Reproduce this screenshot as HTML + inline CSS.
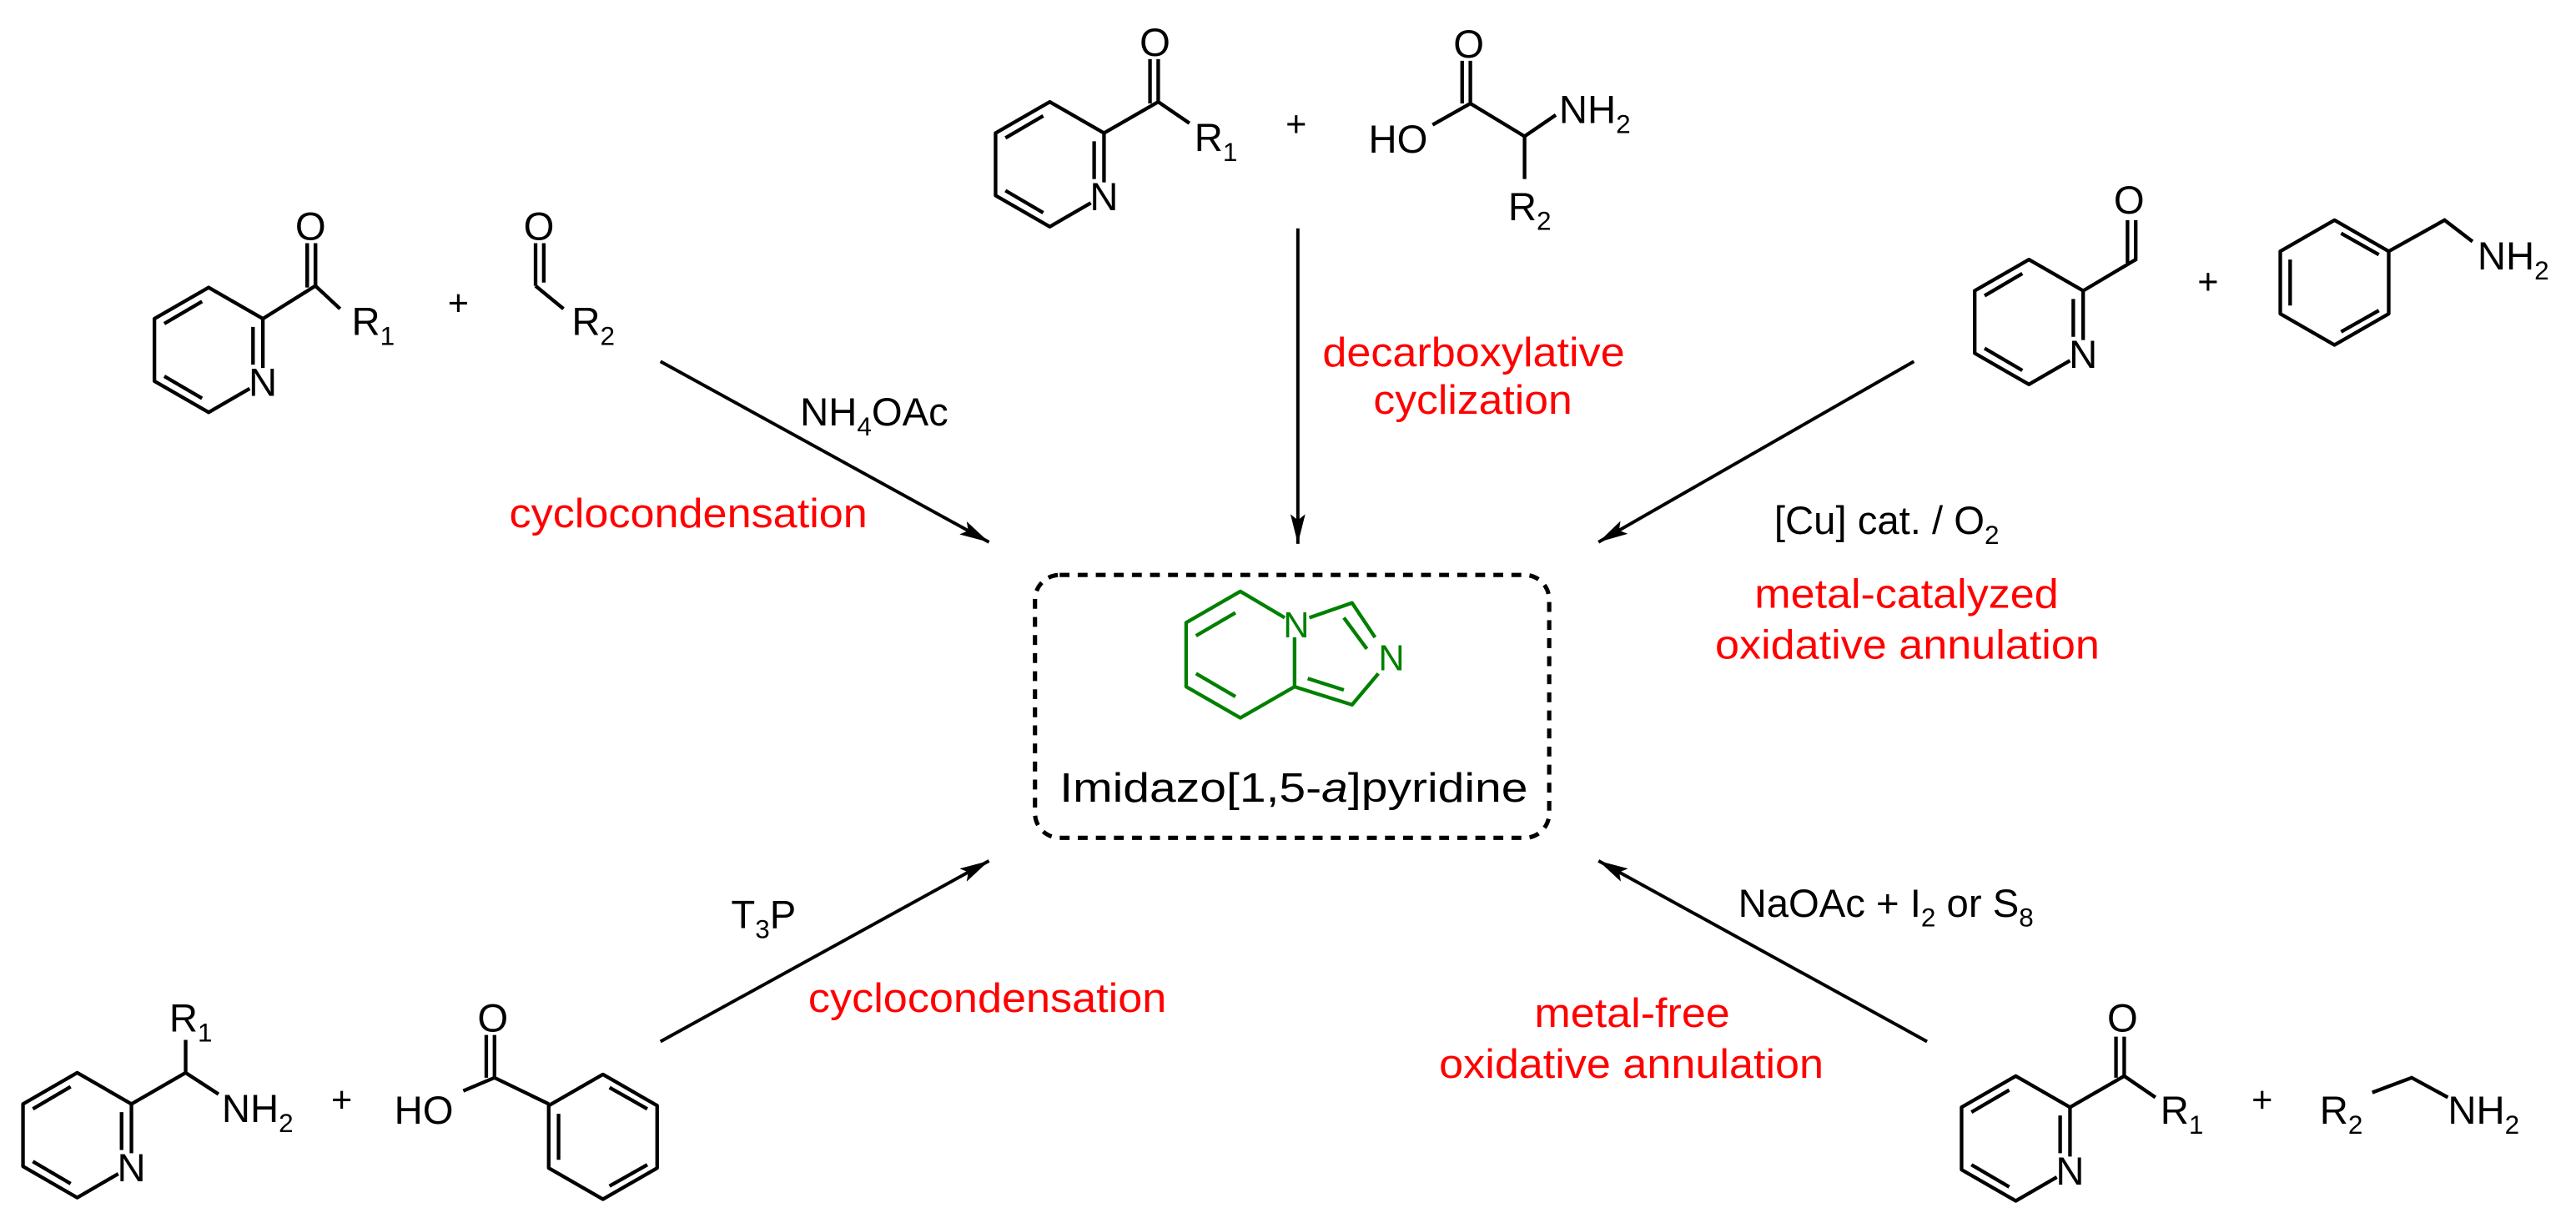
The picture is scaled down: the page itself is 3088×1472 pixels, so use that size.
<!DOCTYPE html>
<html><head><meta charset="utf-8"><style>
html,body{margin:0;padding:0;background:#fff;}
svg{display:block;}
text{font-family:"Liberation Sans",Arial,sans-serif;}
</style></head><body>
<svg width="3088" height="1472" viewBox="0 0 1568 747.5" preserveAspectRatio="none" xmlns="http://www.w3.org/2000/svg">
<defs>
<marker id="ah" viewBox="0 0 20 10" refX="20" refY="5" markerWidth="10" markerHeight="5" markerUnits="userSpaceOnUse" orient="auto">
<path d="M0,0 L20,5 L0,10 L4,5 z" fill="#000"/>
</marker>
<marker id="ah2" viewBox="0 0 20 10" refX="20" refY="5" markerWidth="18" markerHeight="9" markerUnits="userSpaceOnUse" orient="auto">
<path d="M0,0 L20,5 L0,10 L4,5 z" fill="#000"/>
</marker>
<g id="pyr" fill="none" stroke="#000" stroke-width="2.2" stroke-linejoin="round">
<path d="M33,11 L33,-19 L0,-38 L-33,-19 L-33,19 L0,38 L25,23.5"/>
<path d="M-27,-16 L-4,-29.5 M-27,16 L-4,29.5 M27,-14 L27,9"/>
</g>
<g id="benz" fill="none" stroke="#000" stroke-width="2.2" stroke-linejoin="round">
<path d="M33,-19 L0,-38 L-33,-19 L-33,19 L0,38 L33,19 Z"/>
<path d="M-27,-14 L-27,14 M4,-30 L27,-17 M4,30 L27,17"/>
</g>
</defs>

<g font-size="24" fill="#000">
<!-- Mol A top-left -->
<use href="#pyr" x="127" y="213"/>
<text x="160" y="241" text-anchor="middle">N</text>
<path d="M160,194 L192,174 L207,188 M192,174 L192,148 M187,174 L187,148" stroke="#000" stroke-width="2.2" fill="none"/>
<path d="M192,174 L192,148 M187,175 L187,148" stroke="#000" stroke-width="2.2" fill="none"/>
<text x="189" y="146" text-anchor="middle">O</text>
<text x="214" y="204">R<tspan font-size="16" dy="6">1</tspan></text>
<text x="279" y="192" text-anchor="middle" font-size="22">+</text>
<!-- aldehyde -->
<path d="M326,174 L326,148 M331,172 L331,148 M326,174 L343,188" stroke="#000" stroke-width="2.2" fill="none"/>
<text x="328" y="146" text-anchor="middle">O</text>
<text x="348" y="204">R<tspan font-size="16" dy="6">2</tspan></text>

<!-- Mol B top-center -->
<use href="#pyr" x="639" y="100"/>
<text x="672" y="128" text-anchor="middle">N</text>
<path d="M672,81 L705,62 L724,75 M705,62 L705,36 M700,63 L700,36" stroke="#000" stroke-width="2.2" fill="none"/>
<text x="703" y="34" text-anchor="middle">O</text>
<text x="727" y="92">R<tspan font-size="16" dy="6">1</tspan></text>
<text x="789" y="83" text-anchor="middle" font-size="22">+</text>
<text x="833" y="93">HO</text>
<path d="M872,76 L895,63 L928,83 L947,70 M928,83 L928,109 M895,63 L895,37 M890,63 L890,37" stroke="#000" stroke-width="2.2" fill="none"/>
<text x="894" y="35" text-anchor="middle">O</text>
<text x="949" y="75">NH<tspan font-size="16" dy="6">2</tspan></text>
<text x="918" y="134">R<tspan font-size="16" dy="6">2</tspan></text>

<!-- Mol C top-right -->
<use href="#pyr" x="1235" y="196"/>
<text x="1268" y="224" text-anchor="middle">N</text>
<path d="M1268,177 L1300,158 L1300,134 M1295,160 L1295,134" stroke="#000" stroke-width="2.2" fill="none"/>
<text x="1296" y="130" text-anchor="middle">O</text>
<text x="1344" y="179" text-anchor="middle" font-size="22">+</text>
<use href="#benz" x="1421" y="172"/>
<path d="M1454,153 L1488,134 L1505,147" stroke="#000" stroke-width="2.2" fill="none"/>
<text x="1508" y="164">NH<tspan font-size="16" dy="6">2</tspan></text>

<!-- Mol D bottom-left -->
<use href="#pyr" x="47" y="691"/>
<text x="80" y="719" text-anchor="middle">N</text>
<path d="M80,672 L113,653 L113,633 M113,653 L133,666" stroke="#000" stroke-width="2.2" fill="none"/>
<text x="103" y="628">R<tspan font-size="16" dy="6">1</tspan></text>
<text x="135" y="683">NH<tspan font-size="16" dy="6">2</tspan></text>
<text x="208" y="677" text-anchor="middle" font-size="22">+</text>
<text x="240" y="684">HO</text>
<path d="M282,664 L301,656 L334,672 M301,656 L301,630 M296,656 L296,630" stroke="#000" stroke-width="2.2" fill="none"/>
<text x="300" y="628" text-anchor="middle">O</text>
<use href="#benz" x="367" y="692"/>

<!-- Mol E bottom-right -->
<use href="#pyr" x="1227" y="693"/>
<text x="1260" y="721" text-anchor="middle">N</text>
<path d="M1260,674 L1293,655 L1312,668 M1293,655 L1293,631 M1288,656 L1288,631" stroke="#000" stroke-width="2.2" fill="none"/>
<text x="1292" y="628" text-anchor="middle">O</text>
<text x="1315" y="684">R<tspan font-size="16" dy="6">1</tspan></text>
<text x="1377" y="677" text-anchor="middle" font-size="22">+</text>
<text x="1412" y="684">R<tspan font-size="16" dy="6">2</tspan></text>
<path d="M1444,665 L1468,656 L1490,668" stroke="#000" stroke-width="2.2" fill="none"/>
<text x="1490" y="684">NH<tspan font-size="16" dy="6">2</tspan></text>
</g>

<!-- arrows -->
<g stroke="#000" stroke-width="2" fill="none">
<line x1="790" y1="139" x2="790" y2="331" marker-end="url(#ah2)"/>
<line x1="402" y1="220" x2="602" y2="330" marker-end="url(#ah2)"/>
<line x1="1165" y1="220" x2="973" y2="330" marker-end="url(#ah2)"/>
<line x1="402" y1="634" x2="602" y2="524" marker-end="url(#ah2)"/>
<line x1="1173" y1="634" x2="973" y2="524" marker-end="url(#ah2)"/>
</g>

<!-- reagent labels -->
<g font-size="24" fill="#000">
<text x="487" y="259">NH<tspan font-size="16" dy="6">4</tspan><tspan dy="-6">OAc</tspan></text>
<text x="1080" y="325">[Cu] cat. / O<tspan font-size="16" dy="6">2</tspan></text>
<text x="445" y="565">T<tspan font-size="16" dy="6">3</tspan><tspan dy="-6">P</tspan></text>
<text x="1058" y="558">NaOAc + I<tspan font-size="16" dy="6">2</tspan><tspan dy="-6"> or S</tspan><tspan font-size="16" dy="6">8</tspan></text>
</g>
<g font-size="25" fill="#ff0000">
<text x="310" y="321" textLength="218" lengthAdjust="spacingAndGlyphs">cyclocondensation</text>
<text x="805" y="223" textLength="184" lengthAdjust="spacingAndGlyphs">decarboxylative</text>
<text x="836" y="252" textLength="121" lengthAdjust="spacingAndGlyphs">cyclization</text>
<text x="1068" y="370" textLength="185" lengthAdjust="spacingAndGlyphs">metal-catalyzed</text>
<text x="1044" y="401" textLength="234" lengthAdjust="spacingAndGlyphs">oxidative annulation</text>
<text x="492" y="616" textLength="218" lengthAdjust="spacingAndGlyphs">cyclocondensation</text>
<text x="934" y="625" textLength="119" lengthAdjust="spacingAndGlyphs">metal-free</text>
<text x="876" y="656" textLength="234" lengthAdjust="spacingAndGlyphs">oxidative annulation</text>
</g>

<!-- product box -->
<rect x="630" y="350" width="313" height="160" rx="15" ry="15" fill="none" stroke="#000" stroke-width="2.6" stroke-dasharray="6,5"/>
<g fill="none" stroke="#008000" stroke-width="2.2" stroke-linejoin="round">
<path d="M782,376 L755,360 L722,379 L722,418 L755,437 L788,418 L788,388"/>
<path d="M728,387 L752,373 M728,410 L752,424"/>
<path d="M797,376 L823,367 L837,388 M839,410 L823,429 L788,418"/>
<path d="M818,376 L832,395 M796,413 L818,420"/>
</g>
<g font-size="22" fill="#008000">
<text x="789" y="388" text-anchor="middle">N</text>
<text x="847" y="408" text-anchor="middle">N</text>
</g>
<text x="645" y="488" font-size="25" fill="#000" textLength="285" lengthAdjust="spacingAndGlyphs" font-family="'DejaVu Sans','Liberation Sans',sans-serif">Imidazo[1,5-<tspan font-style="italic">a</tspan>]pyridine</text>
</svg>
</body></html>
